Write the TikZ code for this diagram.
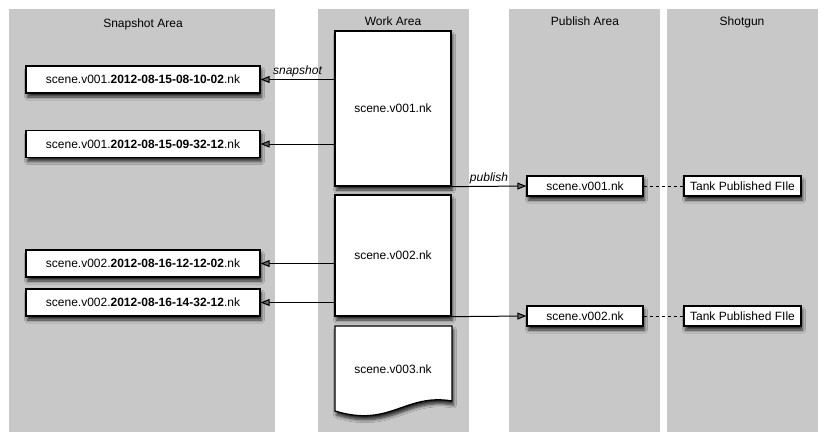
\documentclass[tikz,border=0pt]{standalone}
\usepackage{fontspec}
\setmainfont{Liberation Sans}
\usetikzlibrary{arrows.meta,shadows.blur}
\definecolor{areagray}{RGB}{200,200,200}
\begin{document}
\begin{tikzpicture}[x=1pt,y=-1pt,
    font=\fontsize{12}{14}\selectfont,
    title/.style={inner sep=0pt},
    shade/.style={blur shadow={shadow xshift=1.5pt,shadow yshift=-4pt,shadow blur steps=6,shadow blur radius=3pt,shadow opacity=80}},
    file/.style={draw=black,line width=1.3pt,fill=white,inner sep=0pt,shade},
    snapfile/.style={file,minimum width=234pt,minimum height=27pt},
    pubfile/.style={file,minimum width=116pt,minimum height=20pt},
    flow/.style={-{Triangle[length=9pt,width=7pt]},line width=1pt}]
  \useasboundingbox (0,0) rectangle (828,445);
  % columns
  \foreach \a/\b in {9/275,318/469,509/660,667/818}
    \fill[areagray] (\a,9) rectangle (\b,432);
  \node[title] (tsnap) at (143,24) {Snapshot Area};
  \node[title] (twork) at (393,21) {Work Area};
  \node[title] (tpub) at (585,21) {Publish Area};
  \node[title] (tshot) at (742,22) {Shotgun};
  % work area
  \node[file,minimum width=116pt,minimum height=155pt] (work1) at (393,108.5) {scene.v001.nk};
  \node[file,minimum width=116pt,minimum height=121pt] (work2) at (393,255.5) {scene.v002.nk};
  \filldraw[draw=black,line width=1.3pt,fill=white,shade] (335,326) -- (452,326) -- (452,401)
    .. controls (405,393) and (390,428) .. (335,411) -- cycle;
  \node (work3) at (393,369) {scene.v003.nk};
  % snapshots
  \node[snapfile] (snap1) at (143,79.5) {scene.v001.\textbf{2012-08-15-08-10-02}.nk};
  \node[snapfile] (snap2) at (143,144) {scene.v001.\textbf{2012-08-15-09-32-12}.nk};
  \node[snapfile] (snap3) at (143,263.5) {scene.v002.\textbf{2012-08-16-12-12-02}.nk};
  \node[snapfile] (snap4) at (143,302.5) {scene.v002.\textbf{2012-08-16-14-32-12}.nk};
  \draw[flow] (snap1.east -| work1.west) -- node[above=-1pt,font=\fontsize{12}{14}\selectfont\itshape] {snapshot} (snap1.east);
  \draw[flow] (snap2.east -| work1.west) -- (snap2.east);
  \draw[flow] (snap3.east -| work2.west) -- (snap3.east);
  \draw[flow] (snap4.east -| work2.west) -- (snap4.east);
  % publish
  \node[pubfile] (pub1) at (585,186) {scene.v001.nk};
  \node[pubfile] (pub2) at (585,316) {scene.v002.nk};
  \draw[flow] (work1.south east) -- node[above=-1pt,font=\fontsize{12}{14}\selectfont\itshape] {publish} (pub1.west);
  \draw[flow] (work2.south east) -- (pub2.west);
  % shotgun
  \node[pubfile,minimum width=117pt] (shot1) at (742.5,186) {Tank Published FIle};
  \node[pubfile,minimum width=117pt] (shot2) at (742.5,316) {Tank Published FIle};
  \draw[dashed,line width=1pt] (pub1.east) -- (shot1.west);
  \draw[dashed,line width=1pt] (pub2.east) -- (shot2.west);
\end{tikzpicture}
\end{document}
